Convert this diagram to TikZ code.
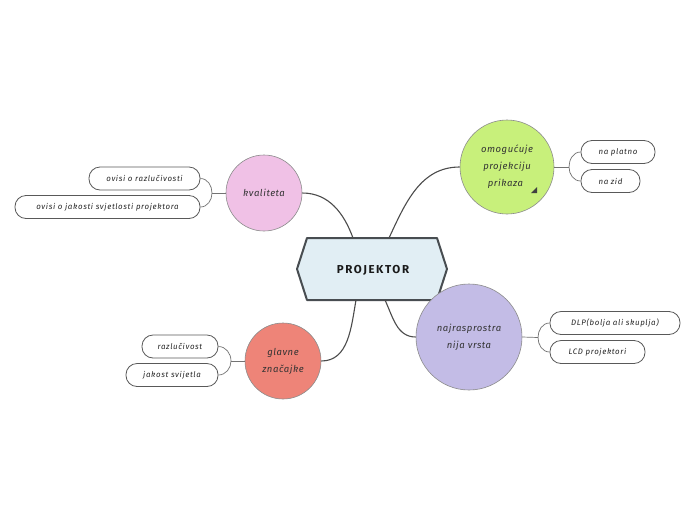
\documentclass[tikz,border=0pt]{standalone}
\usepackage{fontspec}
\setmainfont{Fira Sans}
\begin{document}
\begin{tikzpicture}[x=1pt,y=-1pt,
  txt/.style={font=\fontsize{7.9}{9}\selectfont\itshape\addfontfeature{LetterSpace=8}, text=black!85},
  leaf/.style={txt, draw=black!65, line width=0.8pt, fill=white, rounded corners=11pt, minimum height=23pt, inner sep=0pt},
  topic/.style={circle, draw=black!45, line width=0.6pt, inner sep=0pt, align=center, font=\fontsize{9.5}{17}\selectfont\itshape\addfontfeature{LetterSpace=6}, text=black!80},
  main/.style={draw=black!70, line width=1.1pt},
  sub/.style={draw=black!55, line width=0.7pt}
]
\useasboundingbox (0,0) rectangle (696,520);
\fill[white] (0,0) rectangle (696,520);

% central hexagon
\draw[fill={rgb,255:red,225;green,238;blue,244}, draw={rgb,255:red,72;green,77;blue,81}, line width=2pt, line join=round]
  (297,269) -- (307,238) -- (437,238) -- (447,269) -- (437,300) -- (307,300) -- cycle;
\node[font=\fontsize{11.5}{13}\selectfont\bfseries\addfontfeature{LetterSpace=14}, text=black!90] (root) at (373,270) {PROJEKTOR};
\coordinate (rtl) at (353,238);
\coordinate (rtr) at (389,238);
\coordinate (rbl) at (356,300);
\coordinate (rbr) at (385,300);

% topic circles
\node[topic, minimum size=76pt, fill={rgb,255:red,240;green,193;blue,230}] (kv) at (264,193) {kvaliteta};
\node[topic, minimum size=94pt, fill={rgb,255:red,200;green,240;blue,123}] (om) at (507,167) {omogućuje\\projekciju\\\ \ prikaza\ \ \ \ };
\node[topic, minimum size=76pt, fill={rgb,255:red,238;green,132;blue,120}] (gl) at (283,361) {glavne\\značajke};
\node[topic, minimum size=106pt, fill={rgb,255:red,195;green,188;blue,230}] (nr) at (469,337) {najrasprostra\\nija vrsta};
\fill[black!75] (531,193) -- (537,193) -- (537,187) -- cycle;

% main connectors
\draw[main] (kv.east) to[out=0,in=110] (rtl);
\draw[main] (om.west) to[out=180,in=65] (rtr);
\draw[main] (gl.east) to[out=0,in=-100] (rbl);
\draw[main] (nr.west) to[out=180,in=-65] (rbr);

% leaves
\node[leaf, minimum width=74pt] (l1) at (618,152) {na platno};
\node[leaf, minimum width=59pt] (l2) at (610.5,181) {na zid};
\node[leaf, minimum width=111pt] (l3) at (144.5,178.5) {ovisi o razlučivosti};
\node[leaf, minimum width=185pt] (l4) at (107.5,207) {ovisi o jakosti svjetlosti projektora};
\node[leaf, minimum width=76pt] (l5) at (180,346.5) {razlučivost};
\node[leaf, minimum width=92pt] (l6) at (172,375) {jakost svijetla};
\node[leaf, minimum width=130pt] (l7) at (615,323) {DLP(bolja ali skuplja)};
\node[leaf, minimum width=95pt] (l8) at (597.5,352) {LCD projektori};

% leaf connectors
\coordinate (jom) at (569,167);
\draw[sub] (om.east) -- (jom);
\draw[sub] (jom) to[out=90,in=180] (l1.west);
\draw[sub] (jom) to[out=-90,in=180] (l2.west);
\coordinate (jkv) at (212,193);
\draw[sub] (kv.west) -- (jkv);
\draw[sub] (jkv) to[out=90,in=0] (l3.east);
\draw[sub] (jkv) to[out=-90,in=0] (l4.east);
\coordinate (jgl) at (231,361);
\draw[sub] (gl.west) -- (jgl);
\draw[sub] (jgl) to[out=90,in=0] (l5.east);
\draw[sub] (jgl) to[out=-90,in=0] (l6.east);
\coordinate (jnr) at (538,337.5);
\draw[sub] (nr.east) -- (jnr);
\draw[sub] (jnr) to[out=90,in=180] (l7.west);
\draw[sub] (jnr) to[out=-90,in=180] (l8.west);
\end{tikzpicture}
\end{document}
